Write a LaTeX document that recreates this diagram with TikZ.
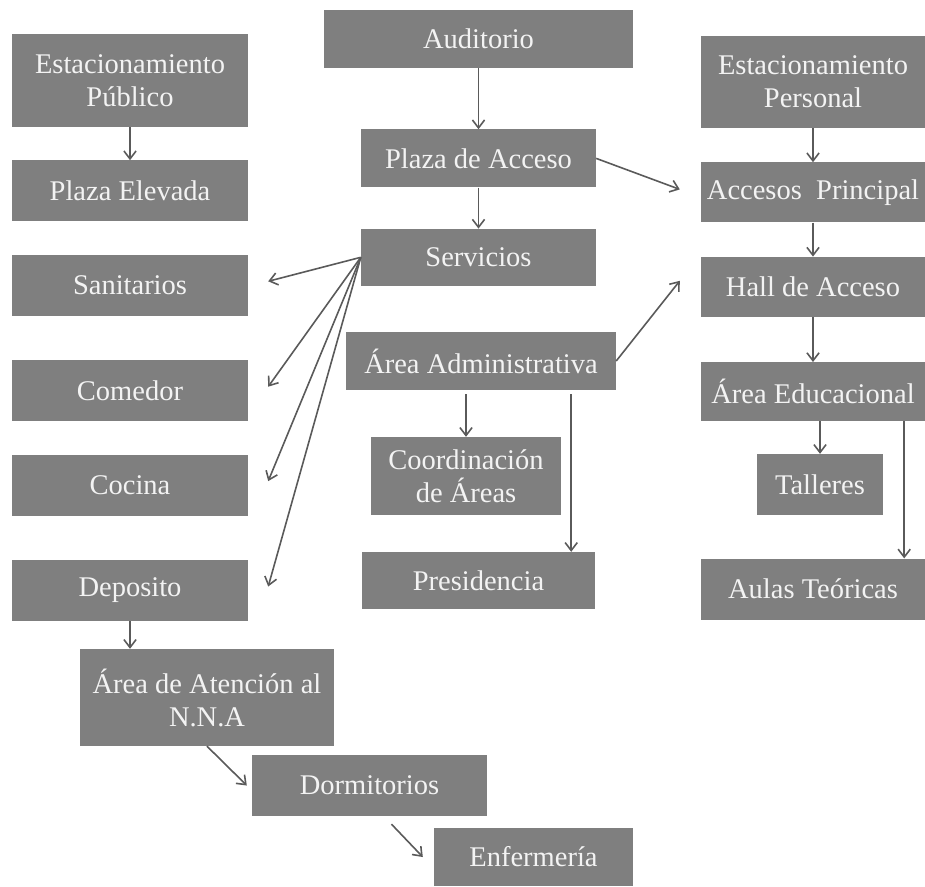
\documentclass[tikz,border=0pt]{standalone}
\usepackage{fontspec}
\setmainfont{Liberation Serif}
\usetikzlibrary{arrows.meta,positioning}
\definecolor{boxgray}{RGB}{127,127,127}
\definecolor{linegray}{RGB}{90,90,90}
\definecolor{textwhite}{RGB}{243,243,243}

\begin{document}
\begin{tikzpicture}
  [x=1pt,y=-1pt,
    every node/.style={rectangle,draw=none,fill=boxgray,text=textwhite,align=center,inner sep=0pt,
      font=\fontsize{28.5}{33}\selectfont,minimum width=236pt,minimum height=61pt},
    flow/.style={draw=linegray,line width=1.6pt,-{Straight Barb[angle=75:10pt]}}]
  \useasboundingbox (0,0) rectangle (925,886);
  \node (estpub) [minimum height=93pt] at (130,80.5) {Estacionamiento\\P\'ublico};
  \node (pelev) [below=33pt of estpub] {Plaza Elevada};
  \node (sanit) [below=33pt of pelev] {Sanitarios};
  \node (comedor) [below=44pt of sanit] {Comedor};
  \node (cocina) [below=33pt of comedor] {Cocina};
  \node (deposito) [below=44pt of cocina] {Deposito};
  \node (audit) [minimum width=309pt,minimum height=58pt] at (478.5,39) {Auditorio};
  \node (plaza) [below=61pt of audit,minimum width=235pt,minimum height=58pt] {Plaza de Acceso};
  \node (servicios) [below=41pt of plaza,minimum width=235pt,minimum height=57pt] {Servicios};
  \node (admin) [minimum width=270pt,minimum height=58pt] at (481,361) {\'Area Administrativa};
  \node (coord) [minimum width=190pt,minimum height=78pt] at (466,476) {Coordinaci\'on\\de \'Areas};
  \node (pres) [minimum width=233pt,minimum height=57pt] at (478.5,580.5) {Presidencia};
  \node (estper) [minimum width=224pt,minimum height=92pt] at (813,82) {Estacionamiento\\Personal};
  \node (accprin) [below=34pt of estper,minimum width=224pt,minimum height=60pt] {Accesos\ \ Principal};
  \node (hall) [below=34pt of accprin,minimum width=224pt,minimum height=60pt] {Hall de Acceso};
  \node (educ) [below=45pt of hall,minimum width=224pt,minimum height=59pt] {\'Area Educacional};
  \node (talleres) [minimum width=126pt] at (820,484.5) {Talleres};
  \node (aulas) [below=137pt of educ,minimum width=224pt] {Aulas Te\'oricas};
  \node (atencion) [minimum width=254pt,minimum height=97pt] at (207,697.5) {\'Area de Atenci\'on al\\N.N.A};
  \node (dorm) [minimum width=235pt] at (369.5,785.5) {Dormitorios};
  \node (enf) [minimum width=199pt,minimum height=58pt] at (533.5,857) {Enfermer\'ia};
  \foreach \from/\to in {estpub/pelev,audit/plaza,plaza/servicios,estper/accprin,accprin/hall,hall/educ}
  \draw[flow] (\from) -- (\to);
  \foreach \to in {sanit,comedor,cocina,deposito}
  \draw[flow] (servicios.west) -- ([xshift=20pt,yshift=4pt]\to.east);
  \draw[flow] (plaza.east) -- ([xshift=-21pt,yshift=3pt]accprin.west);
  \draw[flow] (admin.east) -- ([xshift=-21pt,yshift=6pt]hall.west);
  \draw[flow] ([yshift=-4pt]coord.north |- admin.south) -- (coord.north);
  \draw[flow] ([xshift=-24pt,yshift=-4pt]pres.north east |- admin.south) -- ([xshift=-24pt]pres.north east);
  \draw[flow] (talleres.north |- educ.south) -- (talleres.north);
  \draw[flow] ([xshift=-21pt]aulas.north east |- educ.south) -- ([xshift=-21pt]aulas.north east);
  \draw[flow] (deposito.south) -- (deposito.south |- atencion.north);
  \draw[flow] (atencion.south) -- ([xshift=-5pt]dorm.west);
  \draw[flow] ([xshift=22pt,yshift=-8pt]dorm.south) -- ([xshift=-11pt]enf.west);
\end{tikzpicture}
\end{document}
